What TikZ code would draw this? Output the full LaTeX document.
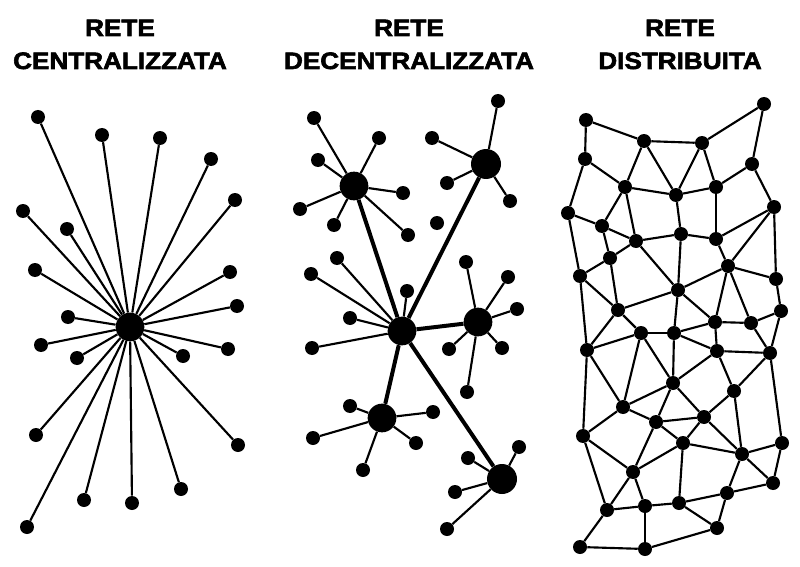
\documentclass[tikz,border=0pt]{standalone}
\usepackage{fontspec}
\newfontfamily\titlefont[FakeStretch=1.1,FakeBold=2.5]{Liberation Sans Bold}
\begin{document}
\begin{tikzpicture}[x=0.75pt,y=-0.75pt,
  leaf/.style={circle,fill=black,inner sep=0pt,minimum size=10.5pt},
  hub/.style={circle,fill=black,inner sep=0pt,minimum size=21.5pt},
  link/.style={line width=1.6pt},
  trunk/.style={line width=3pt},
  title/.style={anchor=base,font=\titlefont\fontsize{17.8}{24.75}\selectfont}]
\useasboundingbox[fill=white] (0,0) rectangle (800,567);
% titles
\node[title] (t1a) at (120,36) {RETE};
\node[title] (t1b) at (120,69) {CENTRALIZZATA};
\node[title] (t2a) at (409,36) {RETE};
\node[title] (t2b) at (409,69) {DECENTRALIZZATA};
\node[title] (t3a) at (680,36) {RETE};
\node[title] (t3b) at (680,69) {DISTRIBUITA};
% ---------- centralized ----------
\node[hub] (c0) at (130,327) {};
\foreach \i/\x/\y in {1/38/117,2/102/135,3/160/138,4/211/159,5/235/200,6/23/211,7/67/229,
  8/35/270,9/230/272,10/237/306,11/68/317,12/41/345,13/77/358,14/183/356,15/228/349,
  16/36/435,17/238/445,18/84/500,19/132/503,20/181/489,21/27/527}{
  \node[leaf] (c\i) at (\x,\y) {};
  \draw[link] (c0) -- (c\i);
}
% ---------- decentralized ----------
\node[hub] (dA) at (354,186) {};
\node[hub,minimum size=22.5pt] (dB) at (486,164) {};
\node[hub] (dC) at (402,331) {};
\node[hub] (dD) at (478,322) {};
\node[hub] (dE) at (382,418) {};
\node[hub,minimum size=22.5pt] (dF) at (502,479) {};
\foreach \h in {dA,dB,dD,dE,dF}{\draw[trunk] (dC) -- (\h);}
\foreach \h/\i/\x/\y in {dA/1/314/118,dA/2/379/138,dA/3/318/160,dA/4/403/193,dA/5/300/209,dA/6/334/225,dA/7/408/235,
  dB/1/498/101,dB/2/432/138,dB/3/447/183,dB/4/510/201,
  dC/1/337/258,dC/2/311/274,dC/3/407/291,dC/4/350/318,dC/5/312/348,
  dD/1/466/262,dD/2/508/277,dD/3/517/309,dD/4/449/349,dD/5/502/348,dD/6/467/392,
  dE/1/350/406,dE/2/433/412,dE/3/313/438,dE/4/416/443,dE/5/363/470,
  dF/1/519/447,dF/2/468/458,dF/3/455/492,dF/4/447/529}{
  \node[leaf] (\h\i) at (\x,\y) {};
  \draw[link] (\h) -- (\h\i);
}
\node[leaf] (dIso) at (437,223) {};
% ---------- distributed ----------
\foreach \i/\x/\y in {1/586/120,2/764/104,3/644/141,4/702/143,5/585/159,6/752/164,7/625/187,
  8/676/195,9/716/187,10/568/213,11/774/207,12/602/226,13/636/241,14/681/234,15/716/239,
  16/610/258,17/728/266,18/580/276,19/776/279,20/678/290,21/618/310,22/781/311,23/715/322,
  24/751/323,25/641/333,26/674/333,27/587/350,28/717/351,29/770/353,30/673/383,31/734/391,
  32/623/407,33/656/422,34/704/417,35/583/436,36/683/443,37/782/443,38/742/454,39/633/472,
  40/773/483,41/727/493,42/607/510,43/645/506,44/679/503,45/717/528,46/580/547,47/645/549}{
  \node[leaf] (n\i) at (\x,\y) {};
}
\foreach \a/\b in {1/3,3/4,4/2,2/6,1/5,5/7,3/7,3/8,4/8,4/9,6/9,6/11,7/8,8/9,5/10,7/12,7/13,
  10/12,12/13,8/14,9/15,13/14,14/15,15/11,11/17,11/19,15/17,12/16,13/16,16/18,10/18,
  13/20,14/20,17/20,17/19,17/23,17/24,19/22,16/21,18/21,20/21,20/26,20/23,21/25,
  18/27,21/27,23/24,24/22,22/29,24/29,23/28,26/23,25/26,27/25,26/28,28/29,26/30,25/30,
  25/32,27/32,27/35,28/30,28/31,29/31,29/37,30/32,30/33,30/34,31/34,31/38,32/33,32/35,
  33/34,33/36,34/36,34/38,36/38,37/38,37/40,38/40,38/41,33/39,36/39,36/44,35/39,35/42,
  39/42,39/43,42/43,43/44,44/41,41/40,44/45,41/45,42/46,46/47,43/47,47/45}{
  \draw[link] (n\a) -- (n\b);
}
\end{tikzpicture}
\end{document}
